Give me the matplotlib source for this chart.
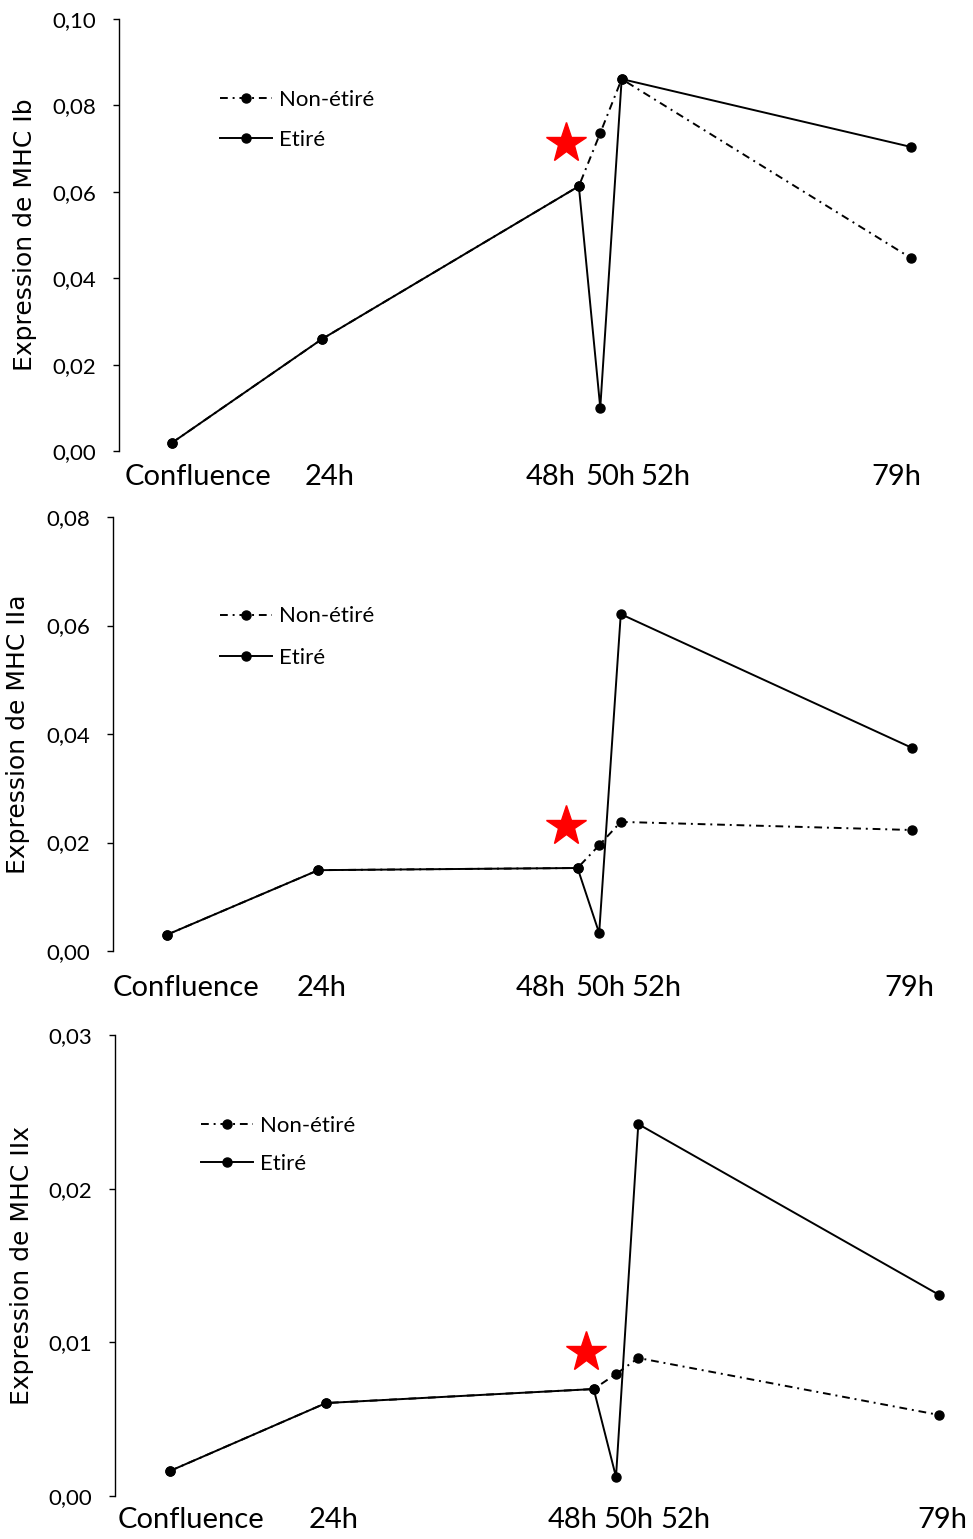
import numpy as np
import matplotlib
matplotlib.use("Agg")
import matplotlib.pyplot as plt
from matplotlib.lines import Line2D

plt.rcParams['font.family'] = ['Lato', 'DejaVu Sans']

# time in hours (confluence placed at 10h on the time axis)
hours = [10, 24, 48, 50, 52, 79]
time_labels = ["Confluence", "24h", "48h", "50h", "52h", "79h"]

# MHC Ib
ib_etire = [0.0019, 0.0259, 0.0613, 0.0100, 0.0861, 0.0704]
ib_non_etire = [0.0019, 0.0259, 0.0613, 0.0736, 0.0861, 0.0447]
ib_star = (46.8, 0.0713)

# MHC IIa
iia_etire = [0.0030, 0.0149, 0.0153, 0.0033, 0.0621, 0.0374]
iia_non_etire = [0.0030, 0.0149, 0.0153, 0.0195, 0.0238, 0.0223]
iia_star = (46.9, 0.0230)

# MHC IIx
iix_etire = [0.00163, 0.00605, 0.00696, 0.00124, 0.0242, 0.01308]
iix_non_etire = [0.00163, 0.00605, 0.00696, 0.00794, 0.00898, 0.00527]
iix_star = (47.3, 0.00937)

W, H = 973, 1539
fig = plt.figure(figsize=(W / 100, H / 100), dpi=100)

panels = [
    dict(left=119, top=19, bottom=451, xlim=(5.05, 83.6), ymax=0.10, step=0.02,
         ylabel="Expression de MHC Ib", et=ib_etire, ne=ib_non_etire, star=ib_star,
         lab_x=[12.4, 24.75, 45.4, 50.9, 56.1, 77.7], lab_off=-26,
         leg=(0.120, 0.836), lsp=0.9, ylab_x=-0.112),
    dict(left=113, top=517, bottom=951, xlim=(5.0, 83.4), ymax=0.08, step=0.02,
         ylabel="Expression de MHC IIa", et=iia_etire, ne=iia_non_etire, star=iia_star,
         lab_x=[11.8, 24.3, 44.6, 50.1, 55.3, 78.7], lab_off=-37,
         leg=(0.126, 0.794), lsp=0.95, ylab_x=-0.112),
    dict(left=115, top=1035, bottom=1496, xlim=(5.07, 80.85), ymax=0.03, step=0.01,
         ylabel="Expression de MHC IIx", et=iix_etire, ne=iix_non_etire, star=iix_star,
         lab_x=[11.9, 24.7, 46.1, 51.1, 56.2, 79.3], lab_off=-24,
         leg=(0.102, 0.825), lsp=0.81, ylab_x=-0.110),
]

right = 960
dashdot = (0, (4, 2.5, 1, 2.5))

for p in panels:
    ax = fig.add_axes([p['left'] / W, 1 - p['bottom'] / H,
                       (right - p['left']) / W, (p['bottom'] - p['top']) / H])
    ax.plot(hours, p['ne'], color='black', lw=1.4, ls=dashdot, marker='o', ms=6.5)
    ax.plot(hours, p['et'], color='black', lw=1.4, ls='-', marker='o', ms=6.5)
    ax.plot(*p['star'], marker='*', color='red', ms=30, mec='red')

    ax.set_xlim(*p['xlim'])
    ax.set_ylim(0, p['ymax'])
    ticks = np.arange(0, p['ymax'] + p['step'] / 2, p['step'])
    ax.set_yticks(ticks)
    ax.set_yticklabels([f"{t:.2f}".replace('.', ',') for t in ticks])
    ax.set_xticks([])
    for s in ['top', 'right', 'bottom']:
        ax.spines[s].set_visible(False)
    ax.spines['left'].set_linewidth(1.0)
    ax.tick_params(axis='y', length=4.5, width=1.0, pad=12, labelsize=16)

    ax.set_ylabel(p['ylabel'], fontfamily='DejaVu Sans', fontsize=18, va='center')
    ax.yaxis.set_label_coords(p['ylab_x'], 0.5)

    for lx, lab in zip(p['lab_x'], time_labels):
        ax.annotate(lab, xy=(lx, 0), xycoords=('data', 'axes fraction'),
                    xytext=(0, p['lab_off']), textcoords='offset pixels',
                    ha='center', va='center', fontsize=21, annotation_clip=False)

    handles = [Line2D([], [], color='black', lw=1.4, ls=dashdot, marker='o', ms=6.5),
               Line2D([], [], color='black', lw=1.4, ls='-', marker='o', ms=6.5)]
    ax.legend(handles, ["Non-étiré", "Etiré"], loc='upper left',
              bbox_to_anchor=p['leg'], frameon=False, fontsize=16,
              handlelength=2.35, handletextpad=0.3, labelspacing=p['lsp'],
              borderpad=0, borderaxespad=0)

fig.savefig("out.png", dpi=100)
